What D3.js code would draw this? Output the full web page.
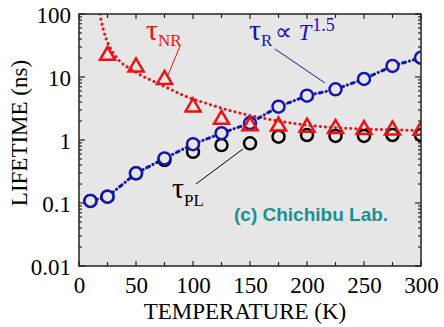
<!DOCTYPE html>
<html><head><meta charset="utf-8">
<script src="https://cdn.jsdelivr.net/npm/d3@7"></script>
<style>
html,body{margin:0;padding:0;background:#fff;}
svg{display:block;}
</style></head>
<body>
<svg id="c" width="444" height="327"></svg>
<script>
// ---- data ----
const temps = [10, 25, 50, 75, 100, 125, 150, 175, 200, 225, 250, 275, 300];
const tauR  = [0.108, 0.126, 0.296, 0.51, 0.86, 1.28, 1.86, 3.38, 5.05, 6.38, 9.3, 15, 20.2];
const tauPL = [0.108, 0.126, 0.296, 0.48, 0.65, 0.83, 0.885, 1.13, 1.2, 1.16, 1.16, 1.2, 1.2];
const tempsNR = [25, 50, 75, 100, 125, 150, 175, 200, 225, 250, 275, 300];
const tauNR = [22.9, 15, 9.5, 3.47, 2.21, 1.75, 1.73, 1.66, 1.58, 1.52, 1.5, 1.48];
const fitT   = [18.4, 19.5, 21, 23.5, 27, 31.5, 37, 45, 55, 65, 77, 95, 112, 125, 150, 175, 200, 225, 250, 275, 300];
const fitNR  = [100, 78, 60, 42, 30, 22, 17, 13.5, 10.5, 8.6, 6.8, 4.8, 3.8, 3.2, 2.45, 2.0, 1.72, 1.57, 1.49, 1.45, 1.42];
const xTicks = [0, 50, 100, 150, 200, 250, 300];
const yTicks = [0.01, 0.1, 1, 10, 100];
const yTickLabels = ["0.01", "0.1", "1", "10", "100"];

// ---- layout ----
const L = 79, R = 421, T = 14, B = 266;
const svg = d3.select("#c");
const x = d3.scaleLinear().domain([0, 300]).range([L, R]);
const y = d3.scaleLog().domain([0.01, 100]).range([B, T]);
const serif = "'Liberation Serif','Times New Roman',serif";

svg.append("rect").attr("x", L).attr("y", T).attr("width", R - L).attr("height", B - T)
  .attr("fill", "#e6e6e6");

svg.append("clipPath").attr("id", "pc").append("rect")
  .attr("x", L).attr("y", T).attr("width", R - L).attr("height", B - T);

// minor/major ticks
const g = svg.append("g").attr("stroke", "#222").attr("stroke-width", 1.2);
const xMinor = d3.range(0, 301, 25);
xMinor.forEach(v => {
  const len = (v % 50 === 0) ? 5 : 4;
  g.append("line").attr("x1", x(v)).attr("x2", x(v)).attr("y1", B).attr("y2", B - len);
  g.append("line").attr("x1", x(v)).attr("x2", x(v)).attr("y1", T).attr("y2", T + len);
});
const yMinor = [];
for (let e = -2; e < 2; e++) for (let m = 1; m < 10; m++) yMinor.push(m * Math.pow(10, e));
yMinor.push(100);
yMinor.forEach(v => {
  const major = Math.abs(Math.log10(v) - Math.round(Math.log10(v))) < 1e-9;
  const len = major ? 6 : 3;
  g.append("line").attr("x1", L).attr("x2", L + len).attr("y1", y(v)).attr("y2", y(v));
  g.append("line").attr("x1", R).attr("x2", R - len).attr("y1", y(v)).attr("y2", y(v));
});

// axes labels via d3 axes (no lines)
const xAxis = svg.append("g").attr("transform", `translate(0,${B})`)
  .call(d3.axisBottom(x).tickValues(xTicks).tickSize(0).tickPadding(11).tickFormat(d3.format("d")));
xAxis.select(".domain").remove();
xAxis.selectAll("text").attr("font-family", serif).attr("font-size", 23).attr("fill", "#000");

const yAxis = svg.append("g").attr("transform", `translate(${L},0)`)
  .call(d3.axisLeft(y).tickValues(yTicks).tickSize(0).tickPadding(8)
    .tickFormat((d, i) => yTickLabels[i]));
yAxis.select(".domain").remove();
yAxis.selectAll("text").attr("font-family", serif).attr("font-size", 23).attr("fill", "#000")
  .attr("dy", "0.36em");

svg.append("text").attr("x", (L + R) / 2 - 5).attr("y", 319).attr("text-anchor", "middle")
  .attr("font-family", serif).attr("font-size", 23).text("TEMPERATURE (K)");
svg.append("text").attr("transform", `translate(27,${(T + B) / 2 - 7}) rotate(-90)`)
  .attr("text-anchor", "middle").attr("font-family", serif).attr("font-size", 23).text("LIFETIME (ns)");

// data layers
const plot = svg.append("g").attr("clip-path", "url(#pc)");

const fitLine = d3.line().x((d, i) => x(fitT[i])).y(d => y(d)).curve(d3.curveMonotoneX);
plot.append("path").attr("d", fitLine(fitNR)).attr("fill", "none").attr("stroke", "#ee1111")
  .attr("stroke-width", 3).attr("stroke-linecap", "round").attr("stroke-dasharray", "0.1,5");

const rLine = d3.line().x((d, i) => x(temps[i])).y(d => y(d));
plot.append("path").attr("d", rLine(tauR)).attr("fill", "none").attr("stroke", "#1414b4")
  .attr("stroke-width", 3).attr("stroke-linecap", "round").attr("stroke-dasharray", "3,4,0.1,4");

// black circles (tauPL)
plot.selectAll(".pl").data(tauPL).enter().append("circle")
  .attr("cx", (d, i) => x(temps[i])).attr("cy", d => y(d)).attr("r", 6)
  .attr("fill", "#e6e6e6").attr("stroke", "#000").attr("stroke-width", 2.5);
// blue circles (tauR)
plot.selectAll(".r").data(tauR).enter().append("circle")
  .attr("cx", (d, i) => x(temps[i])).attr("cy", d => y(d)).attr("r", 6)
  .attr("fill", "#e6e6e6").attr("stroke", "#1414b4").attr("stroke-width", 2.5);
// red triangles (tauNR)
plot.selectAll(".nr").data(tauNR).enter().append("path")
  .attr("d", (d, i) => {
    const cx = x(tempsNR[i]), cy = y(d);
    return `M${cx},${cy - 7.5}L${cx + 7.5},${cy + 5.5}L${cx - 7.5},${cy + 5.5}Z`;
  })
  .attr("fill", "none").attr("stroke", "#ee1111").attr("stroke-width", 2.5).attr("stroke-linejoin", "miter");

// frame
svg.append("rect").attr("x", L).attr("y", T).attr("width", R - L).attr("height", B - T)
  .attr("fill", "none").attr("stroke", "#222").attr("stroke-width", 1.5);

// annotations
svg.append("line").attr("x1", 180).attr("y1", 46).attr("x2", 168).attr("y2", 75)
  .attr("stroke", "#ee1111").attr("stroke-width", 1);
const tNR = svg.append("text").attr("x", 146).attr("y", 40).attr("font-family", serif).attr("fill", "#ee1111");
tNR.append("tspan").attr("font-size", 30).text("τ");
tNR.append("tspan").attr("font-size", 17).attr("dy", 6).text("NR");

svg.append("line").attr("x1", 275).attr("y1", 49).attr("x2", 325).attr("y2", 83)
  .attr("stroke", "#1a1a80").attr("stroke-width", 1);
const tR = svg.append("text").attr("x", 249).attr("y", 40).attr("font-family", serif).attr("fill", "#1414b4");
tR.append("tspan").attr("font-size", 30).text("τ");
tR.append("tspan").attr("font-size", 17).attr("dy", 6).text("R");
tR.append("tspan").attr("font-size", 24).attr("dy", -6).attr("dx", 3).text("∝ ");
tR.append("tspan").attr("font-size", 23).attr("font-style", "italic").text("T");
tR.append("tspan").attr("font-size", 18).attr("dy", -9).attr("dx", 1).text("1.5");

svg.append("line").attr("x1", 196).attr("y1", 184).attr("x2", 243).attr("y2", 149)
  .attr("stroke", "#000").attr("stroke-width", 1);
const tPL = svg.append("text").attr("x", 172).attr("y", 198).attr("font-family", serif).attr("fill", "#000");
tPL.append("tspan").attr("font-size", 30).text("τ");
tPL.append("tspan").attr("font-size", 17).attr("dy", 8).text("PL");

svg.append("text").attr("x", 234).attr("y", 221).attr("font-family", "'Liberation Sans',Arial,sans-serif")
  .attr("font-weight", "bold").attr("font-size", 19).attr("fill", "#1a9090").text("(c) Chichibu Lab.");
</script>
</body></html>
